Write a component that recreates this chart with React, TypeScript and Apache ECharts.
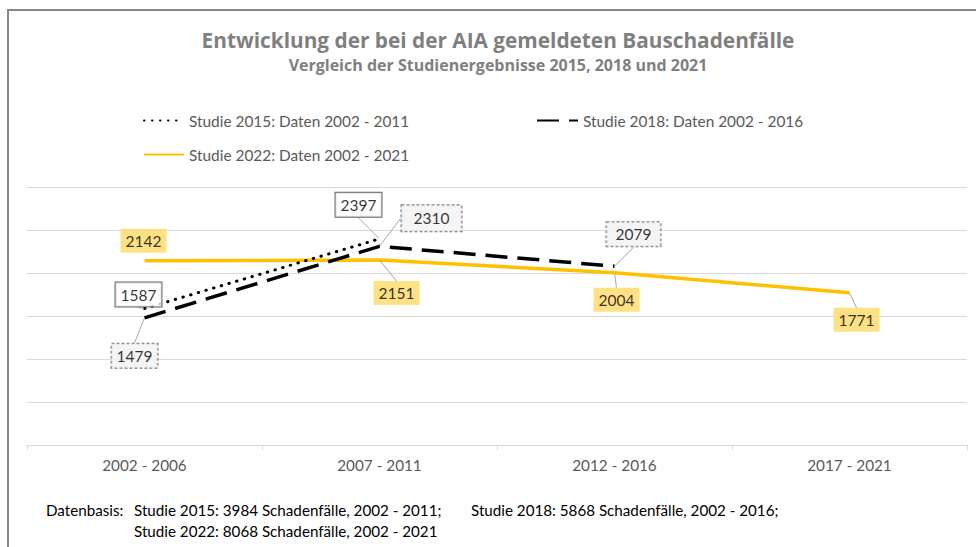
import React, { useEffect, useRef } from 'react';
import * as echarts from 'echarts';

const categories = ['2002 - 2006', '2007 - 2011', '2012 - 2016', '2017 - 2021'];
const study2015: (number | null)[] = [1587, 2397, null, null];
const study2018: (number | null)[] = [1479, 2310, 2079, null];
const study2022: (number | null)[] = [2142, 2151, 2004, 1771];
const seriesNames = [
  'Studie 2015: Daten 2002 - 2011',
  'Studie 2018: Daten 2002 - 2016',
  'Studie 2022: Daten 2002 - 2021',
];
const yMin = 0;
const yMax = 3000;
const yInterval = 500;
const titleText = 'Entwicklung der bei der AIA gemeldeten Bauschadenfälle';
const subtitleText = 'Vergleich der Studienergebnisse 2015, 2018 und 2021';
const footLead = 'Datenbasis:';
const footNotes = [
  'Studie 2015: 3984 Schadenfälle, 2002 - 2011;',
  'Studie 2018: 5868 Schadenfälle, 2002 - 2016;',
  'Studie 2022: 8068 Schadenfälle, 2002 - 2021',
];

// label placement (style only)
const off2015 = [[-6, -14], [-21, -34]];
const off2018 = [[-10, 38], [52, -28], [19, -32]];
const off2022 = [[-1, -20], [17, 33], [2, 27], [7, 27]];
const pad2018 = [[4, 5], [5, 12], [4, 9]];

const FONT = 'Lato, "Open Sans", sans-serif';
const TITLE_FONT = '"Open Sans", Lato, sans-serif';

export default function App() {
  const ref = useRef<HTMLDivElement>(null);
  useEffect(() => {
    if (!ref.current) return;
    const chart = echarts.init(ref.current, null, { renderer: 'svg' });

    const labelSeries = (
      values: (number | null)[],
      offs: number[][],
      labelStyle: any,
      pads?: number[][],
      noLine?: number[]
    ) => ({
      type: 'scatter',
      data: values.map((v, i) =>
        v == null
          ? null
          : {
              value: v,
              label: pads ? { padding: pads[i] } : undefined,
              labelLine: noLine && noLine.includes(i) ? { show: false } : undefined,
            }
      ),
      symbolSize: 1,
      itemStyle: { color: 'rgba(0,0,0,0)' },
      silent: true,
      z: 10,
      label: {
        show: true,
        position: 'inside',
        formatter: (p: any) => String(p.value),
        fontFamily: FONT,
        fontSize: 15.5,
        color: '#000',
        padding: [4, 5],
        ...labelStyle,
      },
      labelLine: { show: true, lineStyle: { color: '#a6a6a6', width: 1 } },
      labelLayout: (p: any) => ({ dx: offs[p.dataIndex][0], dy: offs[p.dataIndex][1] }),
    });

    const legendBase = {
      padding: 0,
      itemHeight: 14,
      itemStyle: { opacity: 0 },
      textStyle: { color: '#595959', fontSize: 15.4, fontFamily: FONT },
    };

    const footStyle = { verticalAlign: 'middle', fontFamily: FONT, fontSize: 15.2, fill: '#000' };

    chart.setOption({
      animation: false,
      grid: { left: 27, right: 9, top: 187, bottom: 102 },
      legend: [
        { ...legendBase, data: [seriesNames[0]], left: 143, top: 113, itemWidth: 40 },
        { ...legendBase, data: [seriesNames[1]], left: 536, top: 113, itemWidth: 41 },
        { ...legendBase, data: [seriesNames[2]], left: 143, top: 147, itemWidth: 40 },
      ],
      xAxis: {
        type: 'category',
        data: categories,
        boundaryGap: true,
        axisLine: { lineStyle: { color: '#d9d9d9', width: 1 } },
        axisTick: { show: true, length: 5, lineStyle: { color: '#d9d9d9' } },
        axisLabel: { color: '#595959', fontSize: 15.3, fontFamily: FONT, margin: 12 },
      },
      yAxis: {
        type: 'value',
        min: yMin,
        max: yMax,
        interval: yInterval,
        axisLabel: { show: false },
        axisLine: { show: false },
        axisTick: { show: false },
        splitLine: { lineStyle: { color: '#d9d9d9', width: 1 } },
      },
      series: [
        {
          name: seriesNames[0],
          type: 'line',
          data: study2015,
          symbol: 'none',
          color: '#000',
          lineStyle: { color: '#000', width: 3, type: [0.5, 7.5], cap: 'round' },
          z: 4,
        },
        {
          name: seriesNames[1],
          type: 'line',
          data: study2018,
          symbol: 'none',
          color: '#000',
          lineStyle: { color: '#000', width: 3.5, type: [22, 10], cap: 'butt' },
          z: 3,
        },
        {
          name: seriesNames[2],
          type: 'line',
          data: study2022,
          symbol: 'none',
          color: '#FFC000',
          lineStyle: { color: '#FFC000', width: 3.5 },
          z: 2,
        },
        labelSeries(study2015, off2015, {
          backgroundColor: '#ffffff',
          borderColor: '#404040',
          borderWidth: 1,
        }),
        labelSeries(
          study2018,
          off2018,
          {
            backgroundColor: '#f2f2f2',
            borderColor: '#595959',
            borderWidth: 1,
            borderType: [3, 2],
          },
          pad2018
        ),
        labelSeries(
          study2022,
          off2022,
          {
            backgroundColor: '#FFD966',
          },
          undefined,
          [0]
        ),
      ],
      graphic: [
        {
          type: 'rect',
          shape: { x: 8, y: 10, width: 1000, height: 600 },
          style: { fill: 'none', stroke: '#878787', lineWidth: 2 },
          silent: true,
        },
        {
          type: 'text',
          x: 498,
          y: 40,
          style: {
            text: titleText,
            align: 'center',
            verticalAlign: 'middle',
            fontFamily: TITLE_FONT,
            fontSize: 20.8,
            fontWeight: 'bold',
            fill: '#7f7f7f',
          },
        },
        {
          type: 'text',
          x: 498,
          y: 65,
          style: {
            text: subtitleText,
            align: 'center',
            verticalAlign: 'middle',
            fontFamily: TITLE_FONT,
            fontSize: 16,
            fontWeight: 'bold',
            fill: '#7f7f7f',
          },
        },
        { type: 'text', x: 46, y: 510, style: { ...footStyle, text: footLead } },
        { type: 'text', x: 134, y: 510, style: { ...footStyle, text: footNotes[0] } },
        { type: 'text', x: 471, y: 510, style: { ...footStyle, text: footNotes[1] } },
        { type: 'text', x: 134, y: 531, style: { ...footStyle, text: footNotes[2] } },
      ],
    });
    return () => chart.dispose();
  }, []);
  return (
    <div
      ref={ref}
      style={{ position: 'absolute', left: 0, top: 0, width: 976, height: 547, background: '#fff' }}
    />
  );
}
